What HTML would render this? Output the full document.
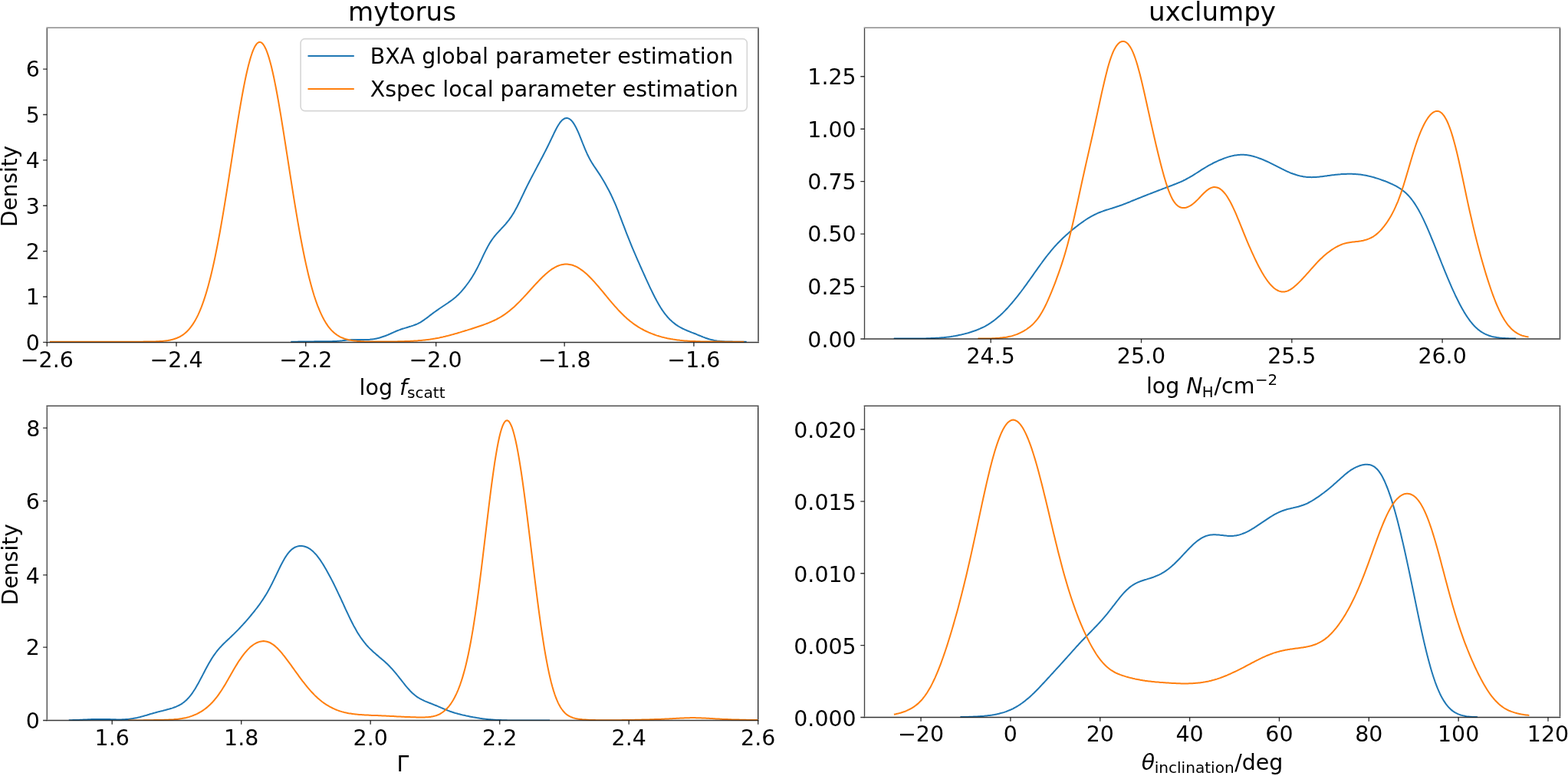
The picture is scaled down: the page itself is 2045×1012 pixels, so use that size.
<!DOCTYPE html>
<html lang="en"><head><meta charset="utf-8"><title>Posterior parameter distributions</title>
<style>
html,body{margin:0;padding:0;background:#fff;}
body{width:2045px;height:1012px;overflow:hidden;}
svg{display:block;filter:blur(0.45px);}
text{font-family:"DejaVu Sans","Liberation Sans",sans-serif;fill:#000;}
.t{font-size:28.45px;}
.ti{font-size:34.1px;}
.sp{fill:none;stroke:#000;stroke-width:1.35;stroke-linecap:butt;}
.tk{stroke:#000;stroke-opacity:0.8;stroke-width:1.35;fill:none;}
.c{fill:none;stroke-width:2;stroke-linejoin:round;stroke-linecap:square;}
.b{stroke:#1f77b4;}
.o{stroke:#ff7f0e;}
</style></head><body>
<svg width="2045" height="1012" viewBox="0 0 2045 1012" role="img" aria-label="Kernel density estimates of posterior parameters for the mytorus and uxclumpy models">
<rect x="0" y="0" width="2045" height="1012" fill="#fff"/>
<g id="panel-tl">
<clipPath id="clip-tl"><rect x="61.3" y="36.1" width="927.7" height="410.4"/></clipPath>
<g clip-path="url(#clip-tl)">
<path class="c b" d="M380.3 445.7L381.8 445.7L383.3 445.7L384.8 445.7L386.3 445.7L387.8 445.7L389.3 445.6L390.8 445.6L392.3 445.6L393.8 445.6L395.3 445.6L396.8 445.6L398.3 445.5L399.8 445.5L401.3 445.5L402.8 445.5L404.3 445.4L405.8 445.4L407.3 445.4L408.8 445.4L410.3 445.3L411.8 445.3L413.3 445.3L414.8 445.3L416.3 445.3L417.8 445.3L419.3 445.3L420.8 445.3L422.3 445.3L423.8 445.3L425.3 445.3L426.8 445.3L428.3 445.3L429.8 445.2L431.3 445.2L432.8 445.2L434.3 445.1L435.8 445.1L437.3 445.0L438.8 444.9L440.3 444.8L441.8 444.7L443.3 444.6L444.8 444.4L446.3 444.3L447.8 444.1L449.3 444.0L450.8 443.8L452.3 443.6L453.8 443.5L455.3 443.4L456.8 443.2L458.3 443.1L459.8 443.1L461.3 443.0L462.8 443.0L464.3 442.9L465.8 442.9L467.3 442.9L468.8 443.0L470.3 443.0L471.8 443.0L473.3 443.0L474.8 443.0L476.3 443.0L477.8 443.0L479.3 443.0L480.8 442.9L482.3 442.8L483.8 442.6L485.3 442.4L486.8 442.2L488.3 442.0L489.8 441.7L491.3 441.4L492.8 441.1L494.3 440.7L495.8 440.3L497.3 439.8L498.8 439.3L500.3 438.8L501.8 438.3L503.3 437.7L504.8 437.1L506.3 436.5L507.8 435.8L509.3 435.2L510.8 434.5L512.3 433.8L513.8 433.1L515.3 432.5L516.8 431.8L518.3 431.2L519.8 430.6L521.3 430.1L522.8 429.5L524.3 429.0L525.8 428.5L527.3 428.1L528.8 427.6L530.3 427.2L531.8 426.7L533.3 426.3L534.8 425.8L536.3 425.4L537.8 424.9L539.3 424.4L540.8 423.8L542.3 423.2L543.8 422.6L545.3 421.9L546.8 421.1L548.3 420.3L549.8 419.4L551.3 418.4L552.8 417.4L554.3 416.3L555.8 415.2L557.3 414.1L558.8 413.0L560.3 411.8L561.8 410.6L563.3 409.5L564.8 408.4L566.3 407.3L567.8 406.2L569.3 405.1L570.8 404.1L572.3 403.0L573.8 402.0L575.3 401.0L576.8 400.0L578.3 399.0L579.8 398.0L581.3 397.0L582.8 396.0L584.3 395.0L585.8 393.9L587.3 392.9L588.8 391.8L590.3 390.7L591.8 389.5L593.3 388.3L594.8 387.0L596.3 385.6L597.8 384.2L599.3 382.6L600.8 381.1L602.3 379.4L603.8 377.6L605.3 375.8L606.8 374.0L608.3 372.0L609.8 370.0L611.3 368.0L612.8 365.8L614.3 363.6L615.8 361.3L617.3 358.8L618.8 356.3L620.3 353.6L621.8 350.8L623.3 347.9L624.8 344.9L626.3 341.8L627.8 338.6L629.3 335.4L630.8 332.2L632.3 329.1L633.8 326.1L635.3 323.2L636.8 320.4L638.3 317.8L639.8 315.4L641.3 313.1L642.8 311.0L644.3 309.0L645.8 307.2L647.3 305.4L648.8 303.7L650.3 302.1L651.8 300.5L653.3 298.9L654.8 297.2L656.3 295.6L657.8 294.0L659.3 292.3L660.8 290.5L662.3 288.7L663.8 286.8L665.3 284.7L666.8 282.6L668.3 280.3L669.8 277.9L671.3 275.3L672.8 272.6L674.3 269.8L675.8 266.8L677.3 263.8L678.8 260.6L680.3 257.5L681.8 254.3L683.3 251.2L684.8 248.0L686.3 245.0L687.8 241.9L689.3 239.0L690.8 236.0L692.3 233.1L693.8 230.3L695.3 227.4L696.8 224.6L698.3 221.7L699.8 218.9L701.3 216.0L702.8 213.2L704.3 210.4L705.8 207.5L707.3 204.7L708.8 201.8L710.3 198.9L711.8 196.0L713.3 193.0L714.8 190.0L716.3 186.9L717.8 183.8L719.3 180.6L720.8 177.5L722.3 174.3L723.8 171.3L725.3 168.3L726.8 165.5L728.3 163.0L729.8 160.7L731.3 158.7L732.8 157.1L734.3 155.8L735.8 154.8L737.3 154.2L738.8 154.0L740.3 154.1L741.8 154.6L743.3 155.5L744.8 156.8L746.3 158.4L747.8 160.4L749.3 162.8L750.8 165.4L752.3 168.5L753.8 171.7L755.3 175.2L756.8 178.9L758.3 182.7L759.8 186.5L761.3 190.2L762.8 193.9L764.3 197.4L765.8 200.7L767.3 203.8L768.8 206.7L770.3 209.4L771.8 212.0L773.3 214.4L774.8 216.7L776.3 218.9L777.8 221.1L779.3 223.4L780.8 225.6L782.3 227.9L783.8 230.3L785.3 232.8L786.8 235.3L788.3 237.8L789.8 240.5L791.3 243.2L792.8 246.0L794.3 248.8L795.8 251.8L797.3 254.8L798.8 258.0L800.3 261.3L801.8 264.7L803.3 268.2L804.8 271.9L806.3 275.6L807.7 279.5L809.2 283.4L810.7 287.3L812.2 291.3L813.7 295.2L815.2 299.2L816.7 303.1L818.2 306.9L819.7 310.7L821.2 314.4L822.7 318.1L824.2 321.8L825.7 325.3L827.2 328.9L828.7 332.4L830.2 335.8L831.7 339.3L833.2 342.7L834.7 346.1L836.2 349.5L837.7 352.8L839.2 356.2L840.7 359.5L842.2 362.8L843.7 366.1L845.2 369.4L846.7 372.6L848.2 375.8L849.7 378.9L851.2 382.0L852.7 385.0L854.2 388.0L855.7 390.8L857.2 393.6L858.7 396.2L860.2 398.8L861.7 401.3L863.2 403.6L864.7 405.8L866.2 407.9L867.7 409.9L869.2 411.7L870.7 413.5L872.2 415.1L873.7 416.7L875.2 418.1L876.7 419.5L878.2 420.7L879.7 421.9L881.2 423.1L882.7 424.1L884.2 425.1L885.7 426.0L887.2 426.9L888.7 427.7L890.2 428.5L891.7 429.2L893.2 429.9L894.7 430.5L896.2 431.2L897.7 431.8L899.2 432.4L900.7 433.0L902.2 433.6L903.7 434.1L905.2 434.7L906.7 435.3L908.2 435.9L909.7 436.6L911.2 437.2L912.7 437.8L914.2 438.4L915.7 439.0L917.2 439.6L918.7 440.1L920.2 440.7L921.7 441.2L923.2 441.7L924.7 442.2L926.2 442.6L927.7 443.0L929.2 443.3L930.7 443.7L932.2 444.0L933.7 444.2L935.2 444.5L936.7 444.7L938.2 444.8L939.7 445.0L941.2 445.1L942.7 445.2L944.2 445.3L945.7 445.4L947.2 445.5L948.7 445.5L950.2 445.6L951.7 445.6L953.2 445.6L954.7 445.6L956.2 445.7L957.7 445.7L959.2 445.7L960.7 445.7L962.2 445.7L963.7 445.7L965.2 445.7L966.7 445.7L968.2 445.7L969.7 445.7L971.2 445.7L972.7 445.7"/>
<path class="c o" d="M66.0 445.7L67.5 445.7L69.0 445.7L70.5 445.7L72.0 445.7L73.5 445.7L75.0 445.7L76.5 445.7L78.0 445.7L79.5 445.7L81.0 445.7L82.5 445.7L84.0 445.7L85.5 445.7L87.0 445.7L88.5 445.7L90.0 445.7L91.5 445.7L93.0 445.7L94.5 445.7L96.0 445.7L97.5 445.7L99.0 445.7L100.5 445.7L102.0 445.7L103.5 445.7L105.0 445.7L106.5 445.7L108.0 445.7L109.5 445.7L111.0 445.7L112.5 445.7L114.0 445.7L115.5 445.7L117.0 445.7L118.5 445.7L120.0 445.7L121.5 445.7L123.0 445.7L124.5 445.7L126.0 445.7L127.5 445.7L129.0 445.7L130.5 445.7L132.0 445.7L133.5 445.7L135.0 445.7L136.5 445.7L138.0 445.7L139.5 445.7L141.0 445.7L142.5 445.7L144.0 445.7L145.5 445.7L147.0 445.7L148.5 445.7L150.0 445.7L151.5 445.7L153.0 445.7L154.5 445.7L156.0 445.7L157.5 445.7L159.0 445.7L160.5 445.7L162.0 445.7L163.5 445.7L165.0 445.7L166.5 445.7L168.0 445.7L169.5 445.7L171.0 445.7L172.5 445.7L174.0 445.7L175.5 445.7L177.0 445.7L178.5 445.7L180.0 445.7L181.5 445.7L183.1 445.7L184.6 445.7L186.1 445.7L187.6 445.6L189.1 445.6L190.6 445.6L192.1 445.6L193.6 445.6L195.1 445.6L196.6 445.5L198.1 445.5L199.6 445.5L201.1 445.4L202.6 445.4L204.1 445.3L205.6 445.2L207.1 445.2L208.6 445.1L210.1 445.0L211.6 444.9L213.1 444.7L214.6 444.6L216.1 444.4L217.6 444.2L219.1 444.0L220.6 443.7L222.1 443.4L223.6 443.1L225.1 442.7L226.6 442.3L228.1 441.8L229.6 441.3L231.1 440.7L232.6 440.0L234.1 439.3L235.6 438.5L237.1 437.6L238.6 436.6L240.1 435.5L241.6 434.3L243.1 432.9L244.6 431.5L246.1 429.9L247.6 428.1L249.1 426.2L250.6 424.2L252.1 421.9L253.6 419.5L255.1 416.9L256.6 414.1L258.1 411.1L259.6 407.8L261.1 404.3L262.6 400.6L264.1 396.6L265.6 392.4L267.1 387.9L268.6 383.1L270.1 378.0L271.6 372.7L273.1 367.1L274.6 361.2L276.1 355.0L277.6 348.5L279.1 341.7L280.6 334.7L282.1 327.3L283.6 319.7L285.1 311.8L286.6 303.7L288.1 295.3L289.6 286.7L291.1 277.9L292.6 268.9L294.1 259.7L295.6 250.4L297.1 240.9L298.6 231.4L300.1 221.7L301.6 212.1L303.1 202.4L304.6 192.7L306.1 183.1L307.6 173.6L309.1 164.2L310.6 154.9L312.1 145.9L313.6 137.1L315.1 128.5L316.6 120.3L318.1 112.4L319.6 104.9L321.1 97.8L322.6 91.2L324.1 85.0L325.6 79.4L327.1 74.3L328.6 69.7L330.1 65.7L331.6 62.3L333.1 59.6L334.6 57.4L336.1 55.9L337.6 55.1L339.1 54.9L340.6 55.4L342.1 56.5L343.6 58.3L345.1 60.7L346.6 63.7L348.1 67.3L349.6 71.6L351.1 76.4L352.6 81.7L354.1 87.6L355.6 94.0L357.1 100.8L358.6 108.1L360.1 115.7L361.6 123.8L363.1 132.1L364.6 140.8L366.1 149.7L367.6 158.8L369.1 168.1L370.6 177.6L372.1 187.1L373.6 196.8L375.1 206.4L376.6 216.1L378.1 225.8L379.6 235.4L381.1 244.9L382.6 254.3L384.1 263.6L385.6 272.7L387.1 281.6L388.6 290.4L390.1 298.9L391.6 307.2L393.1 315.2L394.6 323.0L396.1 330.5L397.6 337.7L399.1 344.6L400.6 351.3L402.1 357.7L403.6 363.7L405.1 369.5L406.6 375.0L408.1 380.2L409.6 385.2L411.1 389.8L412.6 394.2L414.1 398.3L415.7 402.2L417.2 405.8L418.7 409.2L420.2 412.4L421.7 415.3L423.2 418.1L424.7 420.6L426.2 422.9L427.7 425.1L429.2 427.1L430.7 428.9L432.2 430.6L433.7 432.1L435.2 433.5L436.7 434.8L438.2 435.9L439.7 437.0L441.2 437.9L442.7 438.8L444.2 439.6L445.7 440.3L447.2 440.9L448.7 441.5L450.2 442.0L451.7 442.4L453.2 442.8L454.7 443.2L456.2 443.5L457.7 443.8L459.2 444.0L460.7 444.3L462.2 444.4L463.7 444.6L465.2 444.8L466.7 444.9L468.2 445.0L469.7 445.1L471.2 445.2L472.7 445.2L474.2 445.3L475.7 445.4L477.2 445.4L478.7 445.4L480.2 445.5L481.7 445.5L483.2 445.5L484.7 445.5L486.2 445.6L487.7 445.6L489.2 445.6L490.7 445.6L492.2 445.6L493.7 445.6L495.2 445.6L496.7 445.6L498.2 445.6L499.7 445.6L501.2 445.6L502.7 445.5L504.2 445.5L505.7 445.5L507.2 445.5L508.7 445.5L510.2 445.5L511.7 445.5L513.2 445.4L514.7 445.4L516.2 445.4L517.7 445.4L519.2 445.3L520.7 445.3L522.2 445.3L523.7 445.2L525.2 445.2L526.7 445.2L528.2 445.1L529.7 445.1L531.2 445.0L532.7 445.0L534.2 444.9L535.7 444.8L537.2 444.7L538.7 444.7L540.2 444.6L541.7 444.5L543.2 444.4L544.7 444.3L546.2 444.1L547.7 444.0L549.2 443.9L550.7 443.7L552.2 443.6L553.7 443.4L555.2 443.2L556.7 443.1L558.2 442.9L559.7 442.7L561.2 442.5L562.7 442.2L564.2 442.0L565.7 441.7L567.2 441.5L568.7 441.2L570.2 440.9L571.7 440.7L573.2 440.4L574.7 440.0L576.2 439.7L577.7 439.4L579.2 439.0L580.7 438.7L582.2 438.3L583.7 438.0L585.2 437.6L586.7 437.2L588.2 436.8L589.7 436.4L591.2 436.0L592.7 435.5L594.2 435.1L595.7 434.7L597.2 434.2L598.7 433.8L600.2 433.4L601.7 432.9L603.2 432.4L604.7 432.0L606.2 431.5L607.7 431.0L609.2 430.6L610.7 430.1L612.2 429.6L613.7 429.2L615.2 428.7L616.7 428.2L618.2 427.7L619.7 427.2L621.2 426.7L622.7 426.2L624.2 425.7L625.7 425.2L627.2 424.7L628.7 424.2L630.2 423.7L631.7 423.1L633.2 422.6L634.7 422.0L636.2 421.5L637.7 420.9L639.2 420.2L640.7 419.6L642.2 418.9L643.7 418.3L645.2 417.5L646.7 416.8L648.3 416.0L649.8 415.2L651.3 414.4L652.8 413.5L654.3 412.6L655.8 411.6L657.3 410.6L658.8 409.6L660.3 408.5L661.8 407.4L663.3 406.3L664.8 405.1L666.3 403.8L667.8 402.5L669.3 401.2L670.8 399.9L672.3 398.5L673.8 397.0L675.3 395.6L676.8 394.1L678.3 392.6L679.8 391.0L681.3 389.4L682.8 387.9L684.3 386.2L685.8 384.6L687.3 383.0L688.8 381.3L690.3 379.7L691.8 378.0L693.3 376.3L694.8 374.7L696.3 373.0L697.8 371.4L699.3 369.8L700.8 368.2L702.3 366.6L703.8 365.0L705.3 363.5L706.8 362.0L708.3 360.6L709.8 359.2L711.3 357.8L712.8 356.5L714.3 355.2L715.8 354.0L717.3 352.8L718.8 351.7L720.3 350.7L721.8 349.8L723.3 348.9L724.8 348.1L726.3 347.3L727.8 346.7L729.3 346.1L730.8 345.6L732.3 345.2L733.8 344.9L735.3 344.7L736.8 344.5L738.3 344.5L739.8 344.5L741.3 344.7L742.8 344.9L744.3 345.2L745.8 345.5L747.3 346.0L748.8 346.6L750.3 347.2L751.8 347.9L753.3 348.7L754.8 349.6L756.3 350.5L757.8 351.6L759.3 352.6L760.8 353.8L762.3 355.0L763.8 356.3L765.3 357.6L766.8 359.0L768.3 360.5L769.8 362.0L771.3 363.5L772.8 365.1L774.3 366.7L775.8 368.4L777.3 370.1L778.8 371.8L780.3 373.5L781.8 375.3L783.3 377.1L784.8 378.9L786.3 380.7L787.8 382.5L789.3 384.3L790.8 386.1L792.3 388.0L793.8 389.8L795.3 391.6L796.8 393.3L798.3 395.1L799.8 396.8L801.3 398.6L802.8 400.3L804.3 401.9L805.8 403.6L807.3 405.2L808.8 406.7L810.3 408.3L811.8 409.8L813.3 411.2L814.8 412.7L816.3 414.0L817.8 415.4L819.3 416.7L820.8 417.9L822.3 419.2L823.8 420.3L825.3 421.5L826.8 422.6L828.3 423.6L829.8 424.6L831.3 425.6L832.8 426.6L834.3 427.5L835.8 428.4L837.3 429.2L838.8 430.0L840.3 430.8L841.8 431.5L843.3 432.3L844.8 432.9L846.3 433.6L847.8 434.2L849.3 434.9L850.8 435.4L852.3 436.0L853.8 436.5L855.3 437.1L856.8 437.6L858.3 438.0L859.8 438.5L861.3 438.9L862.8 439.4L864.3 439.7L865.8 440.1L867.3 440.5L868.8 440.8L870.3 441.2L871.8 441.5L873.3 441.8L874.8 442.1L876.3 442.3L877.8 442.6L879.4 442.8L880.9 443.0L882.4 443.2L883.9 443.4L885.4 443.6L886.9 443.8L888.4 443.9L889.9 444.1L891.4 444.2L892.9 444.4L894.4 444.5L895.9 444.6L897.4 444.7L898.9 444.8L900.4 444.9L901.9 444.9L903.4 445.0L904.9 445.1L906.4 445.1L907.9 445.2L909.4 445.2L910.9 445.3L912.4 445.3L913.9 445.4L915.4 445.4L916.9 445.4L918.4 445.5L919.9 445.5L921.4 445.5L922.9 445.5L924.4 445.5L925.9 445.6L927.4 445.6L928.9 445.6L930.4 445.6L931.9 445.6L933.4 445.6L934.9 445.6L936.4 445.6L937.9 445.6L939.4 445.6L940.9 445.6L942.4 445.7L943.9 445.7L945.4 445.7L946.9 445.7L948.4 445.7L949.9 445.7L951.4 445.7L952.9 445.7L954.4 445.7L955.9 445.7L957.4 445.7L958.9 445.7L960.4 445.7L961.9 445.7L963.4 445.7L964.9 445.7L966.4 445.7L967.9 445.7L969.4 445.7"/>
</g>
<path class="tk" d="M61.3 446.5v5.2M230.02 446.5v5.2M398.74 446.5v5.2M568.66 446.5v5.2M736.18 446.5v5.2M904.9 446.5v5.2M61.3 446.4h-5.2M61.3 387.02h-5.2M61.3 327.64h-5.2M61.3 268.26h-5.2M61.3 208.88h-5.2M61.3 149.5h-5.2M61.3 90.12h-5.2"/>
<path class="sp" stroke-opacity="0.55" stroke-width="1.5" d="M60.4 36.1H989.9"/>
<path class="sp" stroke-opacity="0.85" stroke-width="1.3" d="M989 37V445.6"/>
<path class="sp" stroke-opacity="0.8" stroke-width="1.35" d="M60.4 446.5H989.9"/>
<path class="sp" stroke-opacity="0.72" stroke-width="1.5" d="M61.3 37V445.6"/>
<text class="t" x="61.3" y="478.6" text-anchor="middle">−2.6</text>
<text class="t" x="230.02" y="478.6" text-anchor="middle">−2.4</text>
<text class="t" x="398.74" y="478.6" text-anchor="middle">−2.2</text>
<text class="t" x="568.06" y="478.6" text-anchor="middle">−2.0</text>
<text class="t" x="736.18" y="478.6" text-anchor="middle">−1.8</text>
<text class="t" x="904.9" y="478.6" text-anchor="middle">−1.6</text>
<text class="t" x="51.9" y="456.7" text-anchor="end">0</text>
<text class="t" x="51.9" y="397.32" text-anchor="end">1</text>
<text class="t" x="51.9" y="337.94" text-anchor="end">2</text>
<text class="t" x="51.9" y="278.56" text-anchor="end">3</text>
<text class="t" x="51.9" y="219.18" text-anchor="end">4</text>
<text class="t" x="51.9" y="159.8" text-anchor="end">5</text>
<text class="t" x="51.9" y="100.42" text-anchor="end">6</text>
</g>
<g id="panel-tr">
<clipPath id="clip-tr"><rect x="1127.5" y="36.1" width="907" height="405.9"/></clipPath>
<g clip-path="url(#clip-tr)">
<path class="c b" d="M1166.7 441.6L1168.1 441.6L1169.6 441.6L1171.1 441.6L1172.6 441.6L1174.1 441.6L1175.6 441.6L1177.1 441.6L1178.6 441.6L1180.1 441.6L1181.6 441.6L1183.1 441.6L1184.6 441.6L1186.1 441.6L1187.6 441.6L1189.1 441.6L1190.6 441.6L1192.1 441.6L1193.6 441.6L1195.1 441.6L1196.6 441.6L1198.1 441.5L1199.6 441.5L1201.1 441.5L1202.6 441.5L1204.1 441.4L1205.6 441.4L1207.1 441.4L1208.6 441.3L1210.1 441.3L1211.6 441.2L1213.1 441.2L1214.6 441.1L1216.1 441.1L1217.6 441.0L1219.1 440.9L1220.6 440.8L1222.1 440.8L1223.6 440.7L1225.1 440.6L1226.6 440.4L1228.1 440.3L1229.6 440.2L1231.1 440.1L1232.6 439.9L1234.1 439.7L1235.6 439.6L1237.1 439.4L1238.6 439.2L1240.1 439.0L1241.6 438.7L1243.1 438.5L1244.6 438.2L1246.1 438.0L1247.6 437.7L1249.1 437.4L1250.6 437.1L1252.1 436.8L1253.6 436.5L1255.1 436.1L1256.6 435.8L1258.1 435.4L1259.6 435.0L1261.1 434.6L1262.6 434.2L1264.1 433.7L1265.6 433.3L1267.1 432.8L1268.6 432.3L1270.1 431.8L1271.6 431.3L1273.1 430.7L1274.6 430.1L1276.1 429.5L1277.6 428.9L1279.1 428.2L1280.6 427.5L1282.1 426.8L1283.6 426.1L1285.1 425.3L1286.6 424.4L1288.1 423.6L1289.6 422.7L1291.1 421.7L1292.5 420.7L1294.0 419.7L1295.5 418.6L1297.0 417.5L1298.5 416.3L1300.0 415.1L1301.5 413.8L1303.0 412.5L1304.5 411.2L1306.0 409.8L1307.5 408.4L1309.0 406.9L1310.5 405.4L1312.0 403.8L1313.5 402.2L1315.0 400.6L1316.5 398.9L1318.0 397.2L1319.5 395.5L1321.0 393.7L1322.5 391.9L1324.0 390.0L1325.5 388.2L1327.0 386.3L1328.5 384.4L1330.0 382.4L1331.5 380.5L1333.0 378.5L1334.5 376.5L1336.0 374.4L1337.5 372.4L1339.0 370.3L1340.5 368.2L1342.0 366.1L1343.5 364.0L1345.0 361.9L1346.5 359.8L1348.0 357.7L1349.5 355.5L1351.0 353.4L1352.5 351.3L1354.0 349.2L1355.5 347.1L1357.0 345.0L1358.5 343.0L1360.0 340.9L1361.5 338.9L1363.0 336.9L1364.5 334.9L1366.0 333.0L1367.5 331.1L1369.0 329.3L1370.5 327.4L1372.0 325.6L1373.5 323.9L1375.0 322.2L1376.5 320.5L1378.0 318.9L1379.5 317.3L1381.0 315.7L1382.5 314.2L1384.0 312.7L1385.5 311.2L1387.0 309.8L1388.5 308.4L1390.0 307.0L1391.5 305.7L1393.0 304.4L1394.5 303.1L1396.0 301.8L1397.5 300.6L1399.0 299.3L1400.5 298.1L1402.0 296.9L1403.5 295.7L1405.0 294.6L1406.5 293.4L1408.0 292.3L1409.5 291.2L1411.0 290.1L1412.5 289.1L1414.0 288.0L1415.5 287.0L1416.9 286.0L1418.4 285.1L1419.9 284.2L1421.4 283.3L1422.9 282.4L1424.4 281.6L1425.9 280.8L1427.4 280.0L1428.9 279.3L1430.4 278.6L1431.9 277.9L1433.4 277.3L1434.9 276.7L1436.4 276.1L1437.9 275.6L1439.4 275.0L1440.9 274.5L1442.4 274.0L1443.9 273.5L1445.4 273.1L1446.9 272.6L1448.4 272.1L1449.9 271.7L1451.4 271.2L1452.9 270.7L1454.4 270.3L1455.9 269.8L1457.4 269.3L1458.9 268.8L1460.4 268.2L1461.9 267.7L1463.4 267.2L1464.9 266.6L1466.4 266.0L1467.9 265.5L1469.4 264.9L1470.9 264.3L1472.4 263.7L1473.9 263.1L1475.4 262.4L1476.9 261.8L1478.4 261.2L1479.9 260.6L1481.4 260.0L1482.9 259.4L1484.4 258.8L1485.9 258.2L1487.4 257.6L1488.9 257.0L1490.4 256.4L1491.9 255.8L1493.4 255.2L1494.9 254.6L1496.4 254.0L1497.9 253.4L1499.4 252.9L1500.9 252.3L1502.4 251.7L1503.9 251.1L1505.4 250.5L1506.9 250.0L1508.4 249.4L1509.9 248.8L1511.4 248.2L1512.9 247.6L1514.4 247.1L1515.9 246.5L1517.4 245.9L1518.9 245.4L1520.4 244.8L1521.9 244.2L1523.4 243.7L1524.9 243.1L1526.4 242.5L1527.9 242.0L1529.4 241.4L1530.9 240.8L1532.4 240.2L1533.9 239.6L1535.4 239.0L1536.9 238.4L1538.4 237.8L1539.9 237.1L1541.4 236.5L1542.8 235.8L1544.3 235.0L1545.8 234.3L1547.3 233.5L1548.8 232.7L1550.3 231.9L1551.8 231.0L1553.3 230.2L1554.8 229.3L1556.3 228.4L1557.8 227.4L1559.3 226.5L1560.8 225.5L1562.3 224.6L1563.8 223.6L1565.3 222.7L1566.8 221.7L1568.3 220.7L1569.8 219.8L1571.3 218.9L1572.8 218.0L1574.3 217.1L1575.8 216.2L1577.3 215.4L1578.8 214.6L1580.3 213.8L1581.8 213.0L1583.3 212.2L1584.8 211.5L1586.3 210.8L1587.8 210.1L1589.3 209.4L1590.8 208.8L1592.3 208.2L1593.8 207.6L1595.3 207.0L1596.8 206.4L1598.3 205.9L1599.8 205.4L1601.3 204.9L1602.8 204.4L1604.3 204.0L1605.8 203.6L1607.3 203.3L1608.8 202.9L1610.3 202.6L1611.8 202.4L1613.3 202.2L1614.8 202.0L1616.3 201.9L1617.8 201.8L1619.3 201.8L1620.8 201.8L1622.3 201.8L1623.8 201.9L1625.3 202.1L1626.8 202.3L1628.3 202.5L1629.8 202.8L1631.3 203.1L1632.8 203.4L1634.3 203.8L1635.8 204.2L1637.3 204.6L1638.8 205.1L1640.3 205.6L1641.8 206.2L1643.3 206.7L1644.8 207.3L1646.3 207.9L1647.8 208.5L1649.3 209.2L1650.8 209.8L1652.3 210.5L1653.8 211.2L1655.3 211.9L1656.8 212.6L1658.3 213.4L1659.8 214.1L1661.3 214.9L1662.8 215.6L1664.3 216.4L1665.8 217.2L1667.2 217.9L1668.7 218.7L1670.2 219.4L1671.7 220.2L1673.2 220.9L1674.7 221.7L1676.2 222.4L1677.7 223.1L1679.2 223.8L1680.7 224.4L1682.2 225.1L1683.7 225.7L1685.2 226.2L1686.7 226.8L1688.2 227.3L1689.7 227.8L1691.2 228.3L1692.7 228.7L1694.2 229.1L1695.7 229.5L1697.2 229.8L1698.7 230.1L1700.2 230.4L1701.7 230.6L1703.2 230.8L1704.7 230.9L1706.2 231.0L1707.7 231.1L1709.2 231.1L1710.7 231.2L1712.2 231.1L1713.7 231.1L1715.2 231.0L1716.7 230.9L1718.2 230.8L1719.7 230.7L1721.2 230.5L1722.7 230.3L1724.2 230.2L1725.7 230.0L1727.2 229.8L1728.7 229.6L1730.2 229.4L1731.7 229.1L1733.2 228.9L1734.7 228.7L1736.2 228.5L1737.7 228.3L1739.2 228.2L1740.7 228.0L1742.2 227.8L1743.7 227.7L1745.2 227.5L1746.7 227.4L1748.2 227.3L1749.7 227.1L1751.2 227.1L1752.7 227.0L1754.2 226.9L1755.7 226.9L1757.2 226.8L1758.7 226.8L1760.2 226.8L1761.7 226.8L1763.2 226.8L1764.7 226.9L1766.2 227.0L1767.7 227.1L1769.2 227.2L1770.7 227.3L1772.2 227.5L1773.7 227.6L1775.2 227.8L1776.7 228.0L1778.2 228.3L1779.7 228.5L1781.2 228.8L1782.7 229.1L1784.2 229.4L1785.7 229.8L1787.2 230.1L1788.7 230.5L1790.2 230.9L1791.7 231.3L1793.1 231.7L1794.6 232.2L1796.1 232.6L1797.6 233.1L1799.1 233.6L1800.6 234.1L1802.1 234.7L1803.6 235.2L1805.1 235.8L1806.6 236.3L1808.1 236.9L1809.6 237.5L1811.1 238.2L1812.6 238.8L1814.1 239.5L1815.6 240.1L1817.1 240.9L1818.6 241.6L1820.1 242.4L1821.6 243.2L1823.1 244.1L1824.6 245.0L1826.1 245.9L1827.6 247.0L1829.1 248.1L1830.6 249.2L1832.1 250.5L1833.6 251.8L1835.1 253.2L1836.6 254.8L1838.1 256.4L1839.6 258.2L1841.1 260.0L1842.6 262.0L1844.1 264.1L1845.6 266.4L1847.1 268.7L1848.6 271.2L1850.1 273.8L1851.6 276.6L1853.1 279.4L1854.6 282.4L1856.1 285.4L1857.6 288.6L1859.1 291.9L1860.6 295.2L1862.1 298.6L1863.6 302.1L1865.1 305.7L1866.6 309.3L1868.1 313.0L1869.6 316.7L1871.1 320.4L1872.6 324.1L1874.1 327.9L1875.6 331.7L1877.1 335.4L1878.6 339.2L1880.1 343.0L1881.6 346.7L1883.1 350.4L1884.6 354.1L1886.1 357.7L1887.6 361.3L1889.1 364.9L1890.6 368.4L1892.1 371.9L1893.6 375.3L1895.1 378.7L1896.6 381.9L1898.1 385.2L1899.6 388.3L1901.1 391.3L1902.6 394.3L1904.1 397.2L1905.6 400.0L1907.1 402.7L1908.6 405.3L1910.1 407.9L1911.6 410.3L1913.1 412.6L1914.6 414.8L1916.1 416.9L1917.5 418.9L1919.0 420.7L1920.5 422.5L1922.0 424.2L1923.5 425.8L1925.0 427.2L1926.5 428.6L1928.0 429.9L1929.5 431.0L1931.0 432.1L1932.5 433.1L1934.0 434.0L1935.5 434.9L1937.0 435.6L1938.5 436.3L1940.0 436.9L1941.5 437.5L1943.0 438.0L1944.5 438.5L1946.0 438.9L1947.5 439.2L1949.0 439.6L1950.5 439.8L1952.0 440.1L1953.5 440.3L1955.0 440.5L1956.5 440.7L1958.0 440.8L1959.5 440.9L1961.0 441.0L1962.5 441.1L1964.0 441.2L1965.5 441.3L1967.0 441.3L1968.5 441.4L1970.0 441.4L1971.5 441.4L1973.0 441.4L1974.5 441.5L1976.0 441.5"/>
<path class="c o" d="M1276.4 441.6L1277.9 441.6L1279.4 441.6L1280.9 441.6L1282.4 441.6L1283.9 441.6L1285.4 441.6L1286.9 441.5L1288.4 441.5L1289.9 441.5L1291.4 441.4L1292.9 441.4L1294.4 441.3L1295.9 441.2L1297.4 441.2L1298.9 441.1L1300.4 441.0L1301.9 440.9L1303.4 440.8L1304.9 440.6L1306.4 440.5L1307.9 440.3L1309.4 440.1L1310.9 439.9L1312.4 439.7L1313.9 439.4L1315.4 439.1L1316.9 438.8L1318.4 438.5L1319.9 438.1L1321.4 437.6L1322.9 437.1L1324.4 436.6L1325.9 436.1L1327.4 435.5L1328.9 434.8L1330.4 434.1L1331.9 433.4L1333.4 432.6L1334.9 431.8L1336.4 430.9L1337.9 430.0L1339.4 429.0L1340.9 427.9L1342.5 426.8L1344.0 425.6L1345.5 424.3L1347.0 422.9L1348.5 421.4L1350.0 419.7L1351.5 418.0L1353.0 416.1L1354.5 414.1L1356.0 411.9L1357.5 409.5L1359.0 407.0L1360.5 404.3L1362.0 401.5L1363.5 398.5L1365.0 395.4L1366.5 392.1L1368.0 388.7L1369.5 385.2L1371.0 381.6L1372.5 377.9L1374.0 374.1L1375.5 370.3L1377.0 366.3L1378.5 362.2L1380.0 358.1L1381.5 353.9L1383.0 349.5L1384.5 345.1L1386.0 340.4L1387.5 335.7L1389.0 330.7L1390.5 325.5L1392.0 320.2L1393.5 314.6L1395.0 308.8L1396.5 302.8L1398.0 296.5L1399.5 290.1L1401.0 283.5L1402.5 276.8L1404.0 270.0L1405.5 263.2L1407.0 256.2L1408.5 249.3L1410.0 242.4L1411.5 235.5L1413.0 228.7L1414.5 222.0L1416.0 215.3L1417.5 208.6L1419.0 202.1L1420.5 195.5L1422.0 188.9L1423.5 182.3L1425.0 175.7L1426.5 168.9L1428.0 162.2L1429.5 155.3L1431.0 148.4L1432.5 141.4L1434.0 134.5L1435.5 127.5L1437.0 120.6L1438.6 113.8L1440.1 107.3L1441.6 100.9L1443.1 94.9L1444.6 89.1L1446.1 83.8L1447.6 78.9L1449.1 74.5L1450.6 70.5L1452.1 66.9L1453.6 63.9L1455.1 61.3L1456.6 59.1L1458.1 57.3L1459.6 55.9L1461.1 54.9L1462.6 54.3L1464.1 54.0L1465.6 54.0L1467.1 54.4L1468.6 55.2L1470.1 56.3L1471.6 57.8L1473.1 59.8L1474.6 62.1L1476.1 64.9L1477.6 68.1L1479.1 71.8L1480.6 76.0L1482.1 80.5L1483.6 85.5L1485.1 90.9L1486.6 96.6L1488.1 102.6L1489.6 108.8L1491.1 115.3L1492.6 121.8L1494.1 128.5L1495.6 135.3L1497.1 142.1L1498.6 148.8L1500.1 155.6L1501.6 162.3L1503.1 168.9L1504.6 175.5L1506.1 182.0L1507.6 188.4L1509.1 194.7L1510.6 200.9L1512.1 207.0L1513.6 213.0L1515.1 218.7L1516.6 224.3L1518.1 229.7L1519.6 234.8L1521.1 239.6L1522.6 244.1L1524.1 248.3L1525.6 252.1L1527.1 255.6L1528.6 258.7L1530.1 261.4L1531.6 263.7L1533.1 265.6L1534.7 267.3L1536.2 268.6L1537.7 269.5L1539.2 270.3L1540.7 270.8L1542.2 271.0L1543.7 271.1L1545.2 271.0L1546.7 270.7L1548.2 270.2L1549.7 269.6L1551.2 268.9L1552.7 268.1L1554.2 267.1L1555.7 266.0L1557.2 264.8L1558.7 263.5L1560.2 262.1L1561.7 260.6L1563.2 259.1L1564.7 257.5L1566.2 255.9L1567.7 254.3L1569.2 252.8L1570.7 251.3L1572.2 249.9L1573.7 248.6L1575.2 247.5L1576.7 246.4L1578.2 245.6L1579.7 244.9L1581.2 244.4L1582.7 244.1L1584.2 244.0L1585.7 244.2L1587.2 244.5L1588.7 245.0L1590.2 245.7L1591.7 246.7L1593.2 247.8L1594.7 249.2L1596.2 250.8L1597.7 252.5L1599.2 254.5L1600.7 256.7L1602.2 259.2L1603.7 261.8L1605.2 264.5L1606.7 267.5L1608.2 270.6L1609.7 273.9L1611.2 277.2L1612.7 280.7L1614.2 284.3L1615.7 287.9L1617.2 291.6L1618.7 295.3L1620.2 299.0L1621.7 302.8L1623.2 306.5L1624.7 310.1L1626.2 313.8L1627.7 317.4L1629.2 320.9L1630.8 324.4L1632.3 327.8L1633.8 331.1L1635.3 334.4L1636.8 337.6L1638.3 340.7L1639.8 343.8L1641.3 346.7L1642.8 349.6L1644.3 352.3L1645.8 355.0L1647.3 357.5L1648.8 360.0L1650.3 362.3L1651.8 364.5L1653.3 366.6L1654.8 368.5L1656.3 370.3L1657.8 372.0L1659.3 373.5L1660.8 374.9L1662.3 376.2L1663.8 377.3L1665.3 378.2L1666.8 379.0L1668.3 379.6L1669.8 380.1L1671.3 380.4L1672.8 380.5L1674.3 380.5L1675.8 380.4L1677.3 380.0L1678.8 379.6L1680.3 379.0L1681.8 378.2L1683.3 377.3L1684.8 376.4L1686.3 375.3L1687.8 374.1L1689.3 372.8L1690.8 371.5L1692.3 370.1L1693.8 368.6L1695.3 367.1L1696.8 365.6L1698.3 364.0L1699.8 362.4L1701.3 360.8L1702.8 359.1L1704.3 357.4L1705.8 355.8L1707.3 354.1L1708.8 352.4L1710.3 350.7L1711.8 349.0L1713.3 347.3L1714.8 345.7L1716.3 344.0L1717.8 342.4L1719.3 340.8L1720.8 339.3L1722.3 337.8L1723.8 336.4L1725.3 335.0L1726.9 333.6L1728.4 332.3L1729.9 331.0L1731.4 329.8L1732.9 328.7L1734.4 327.6L1735.9 326.5L1737.4 325.4L1738.9 324.5L1740.4 323.5L1741.9 322.6L1743.4 321.8L1744.9 321.0L1746.4 320.3L1747.9 319.6L1749.4 319.0L1750.9 318.4L1752.4 317.9L1753.9 317.5L1755.4 317.1L1756.9 316.8L1758.4 316.5L1759.9 316.2L1761.4 316.0L1762.9 315.8L1764.4 315.6L1765.9 315.5L1767.4 315.3L1768.9 315.1L1770.4 315.0L1771.9 314.7L1773.4 314.5L1774.9 314.3L1776.4 314.0L1777.9 313.7L1779.4 313.3L1780.9 312.9L1782.4 312.5L1783.9 311.9L1785.4 311.4L1786.9 310.7L1788.4 310.0L1789.9 309.2L1791.4 308.3L1792.9 307.2L1794.4 306.1L1795.9 304.9L1797.4 303.6L1798.9 302.1L1800.4 300.6L1801.9 299.0L1803.4 297.2L1804.9 295.4L1806.4 293.4L1807.9 291.4L1809.4 289.2L1810.9 286.9L1812.4 284.5L1813.9 282.0L1815.4 279.3L1816.9 276.4L1818.4 273.4L1819.9 270.2L1821.4 266.7L1823.0 263.1L1824.5 259.2L1826.0 255.1L1827.5 250.8L1829.0 246.3L1830.5 241.7L1832.0 236.8L1833.5 231.9L1835.0 226.8L1836.5 221.7L1838.0 216.6L1839.5 211.5L1841.0 206.5L1842.5 201.5L1844.0 196.7L1845.5 192.0L1847.0 187.5L1848.5 183.1L1850.0 179.0L1851.5 175.1L1853.0 171.4L1854.5 168.0L1856.0 164.8L1857.5 161.8L1859.0 159.0L1860.5 156.5L1862.0 154.2L1863.5 152.1L1865.0 150.3L1866.5 148.7L1868.0 147.4L1869.5 146.4L1871.0 145.6L1872.5 145.1L1874.0 144.9L1875.5 145.0L1877.0 145.4L1878.5 146.2L1880.0 147.3L1881.5 148.8L1883.0 150.6L1884.5 152.9L1886.0 155.5L1887.5 158.5L1889.0 162.0L1890.5 165.8L1892.0 170.0L1893.5 174.6L1895.0 179.6L1896.5 184.9L1898.0 190.6L1899.5 196.6L1901.0 202.8L1902.5 209.3L1904.0 216.0L1905.5 222.8L1907.0 229.8L1908.5 236.8L1910.0 243.9L1911.5 251.0L1913.0 258.1L1914.5 265.1L1916.0 272.0L1917.6 278.9L1919.1 285.5L1920.6 292.1L1922.1 298.5L1923.6 304.7L1925.1 310.8L1926.6 316.7L1928.1 322.5L1929.6 328.1L1931.1 333.7L1932.6 339.0L1934.1 344.3L1935.6 349.4L1937.1 354.5L1938.6 359.4L1940.1 364.1L1941.6 368.8L1943.1 373.3L1944.6 377.7L1946.1 382.0L1947.6 386.1L1949.1 390.0L1950.6 393.8L1952.1 397.5L1953.6 400.9L1955.1 404.2L1956.6 407.3L1958.1 410.2L1959.6 413.0L1961.1 415.6L1962.6 418.0L1964.1 420.2L1965.6 422.3L1967.1 424.3L1968.6 426.0L1970.1 427.7L1971.6 429.2L1973.1 430.6L1974.6 431.8L1976.1 432.9L1977.6 433.9L1979.1 434.9L1980.6 435.7L1982.1 436.4L1983.6 437.0L1985.1 437.6L1986.6 438.0L1988.1 438.4L1989.6 438.8L1991.1 439.1L1992.6 439.3"/>
</g>
<path class="tk" d="M1292.2 442v5.2M1488.5 442v5.2M1684.8 442v5.2M1881.1 442v5.2M1127.5 442h-5.2M1127.5 373.55h-5.2M1127.5 305.1h-5.2M1127.5 236.65h-5.2M1127.5 168.2h-5.2M1127.5 99.75h-5.2"/>
<path class="sp" stroke-opacity="0.55" stroke-width="1.5" d="M1126.6 36.1H2035.4"/>
<path class="sp" stroke-opacity="0.78" stroke-width="1.4" d="M2034.5 37V441.1"/>
<path class="sp" stroke-opacity="0.78" stroke-width="1.4" d="M1126.6 442H2035.4"/>
<path class="sp" stroke-opacity="0.74" stroke-width="1.45" d="M1127.5 37V441.1"/>
<text class="t" x="1292.2" y="474" text-anchor="middle">24.5</text>
<text class="t" x="1488.5" y="474" text-anchor="middle">25.0</text>
<text class="t" x="1684.8" y="474" text-anchor="middle">25.5</text>
<text class="t" x="1881.1" y="474" text-anchor="middle">26.0</text>
<text class="t" x="1116.7" y="453.3" text-anchor="end">0.00</text>
<text class="t" x="1116.7" y="383.85" text-anchor="end">0.25</text>
<text class="t" x="1116.7" y="315.4" text-anchor="end">0.50</text>
<text class="t" x="1116.7" y="246.95" text-anchor="end">0.75</text>
<text class="t" x="1116.7" y="178.5" text-anchor="end">1.00</text>
<text class="t" x="1116.7" y="110.05" text-anchor="end">1.25</text>
</g>
<g id="panel-bl">
<clipPath id="clip-bl"><rect x="61.3" y="529.4" width="927.4" height="410.1"/></clipPath>
<g clip-path="url(#clip-bl)">
<path class="c b" d="M90.8 939.3L92.3 939.2L93.8 939.2L95.3 939.1L96.8 939.1L98.3 939.0L99.8 939.0L101.3 938.9L102.8 938.9L104.3 938.8L105.8 938.7L107.3 938.7L108.8 938.6L110.3 938.5L111.8 938.4L113.3 938.4L114.8 938.3L116.3 938.2L117.8 938.2L119.3 938.1L120.8 938.1L122.3 938.0L123.8 938.0L125.2 937.9L126.7 937.9L128.2 937.9L129.7 937.9L131.2 937.9L132.7 937.9L134.2 937.9L135.7 937.9L137.2 938.0L138.7 938.0L140.2 938.0L141.7 938.1L143.2 938.1L144.7 938.2L146.2 938.2L147.7 938.3L149.2 938.3L150.7 938.3L152.2 938.4L153.7 938.4L155.2 938.4L156.7 938.4L158.2 938.4L159.7 938.3L161.2 938.3L162.7 938.2L164.2 938.1L165.7 938.0L167.2 937.9L168.7 937.7L170.2 937.5L171.7 937.3L173.2 937.1L174.7 936.8L176.2 936.5L177.7 936.2L179.2 935.9L180.7 935.5L182.2 935.2L183.7 934.8L185.2 934.4L186.7 934.0L188.2 933.5L189.7 933.1L191.2 932.7L192.7 932.2L194.2 931.8L195.7 931.3L197.2 930.9L198.7 930.5L200.2 930.0L201.7 929.6L203.2 929.2L204.7 928.8L206.2 928.4L207.7 928.0L209.2 927.6L210.7 927.2L212.2 926.9L213.7 926.5L215.2 926.1L216.7 925.7L218.2 925.3L219.7 924.9L221.2 924.5L222.7 924.0L224.2 923.6L225.7 923.1L227.2 922.5L228.7 922.0L230.2 921.4L231.7 920.7L233.2 920.0L234.7 919.2L236.2 918.3L237.7 917.3L239.2 916.2L240.7 915.1L242.2 913.8L243.7 912.4L245.2 910.8L246.7 909.1L248.2 907.3L249.7 905.4L251.2 903.3L252.7 901.0L254.2 898.7L255.7 896.2L257.2 893.6L258.7 890.9L260.2 888.1L261.7 885.3L263.2 882.5L264.7 879.6L266.2 876.7L267.7 873.8L269.2 871.0L270.7 868.2L272.2 865.6L273.7 863.0L275.2 860.4L276.7 858.0L278.2 855.7L279.7 853.6L281.2 851.5L282.7 849.5L284.2 847.7L285.7 845.9L287.2 844.2L288.7 842.6L290.2 841.0L291.7 839.5L293.2 838.1L294.7 836.6L296.2 835.2L297.7 833.8L299.2 832.4L300.7 830.9L302.2 829.5L303.7 828.1L305.2 826.6L306.7 825.1L308.2 823.6L309.7 822.1L311.2 820.6L312.7 819.0L314.2 817.4L315.7 815.8L317.2 814.1L318.7 812.5L320.2 810.8L321.7 809.1L323.2 807.3L324.7 805.6L326.2 803.8L327.7 802.0L329.2 800.2L330.7 798.3L332.2 796.5L333.7 794.5L335.2 792.6L336.7 790.6L338.2 788.6L339.7 786.5L341.2 784.3L342.7 782.1L344.2 779.8L345.7 777.4L347.2 775.0L348.7 772.4L350.2 769.7L351.7 767.0L353.2 764.1L354.7 761.2L356.2 758.1L357.7 755.1L359.2 752.0L360.7 748.8L362.2 745.7L363.7 742.6L365.2 739.5L366.7 736.5L368.2 733.7L369.7 730.9L371.2 728.3L372.7 725.9L374.2 723.7L375.7 721.7L377.2 719.8L378.7 718.2L380.2 716.8L381.7 715.6L383.2 714.6L384.7 713.7L386.2 713.1L387.7 712.6L389.2 712.2L390.7 712.0L392.2 712.0L393.7 712.0L395.2 712.2L396.7 712.5L398.2 713.0L399.7 713.5L401.2 714.2L402.7 715.0L404.2 715.9L405.7 717.0L407.2 718.2L408.7 719.6L410.2 721.1L411.7 722.7L413.2 724.4L414.7 726.3L416.2 728.3L417.7 730.4L419.2 732.7L420.7 735.0L422.2 737.4L423.7 739.9L425.2 742.5L426.7 745.2L428.2 747.9L429.7 750.7L431.2 753.5L432.7 756.4L434.2 759.3L435.7 762.3L437.2 765.4L438.7 768.5L440.2 771.6L441.7 774.8L443.2 778.0L444.7 781.2L446.2 784.5L447.7 787.7L449.2 791.0L450.7 794.3L452.2 797.5L453.7 800.7L455.2 803.9L456.7 807.0L458.2 810.0L459.7 813.0L461.2 815.9L462.7 818.6L464.2 821.3L465.7 823.9L467.2 826.4L468.7 828.7L470.2 831.0L471.7 833.1L473.2 835.2L474.7 837.1L476.2 839.0L477.7 840.8L479.2 842.5L480.7 844.1L482.2 845.6L483.7 847.1L485.2 848.5L486.7 849.9L488.2 851.3L489.7 852.6L491.2 853.9L492.7 855.1L494.2 856.4L495.7 857.7L497.2 858.9L498.7 860.2L500.2 861.5L501.7 862.8L503.2 864.2L504.7 865.6L506.2 867.0L507.7 868.5L509.2 870.1L510.7 871.7L512.2 873.4L513.7 875.1L515.2 876.8L516.7 878.6L518.2 880.5L519.7 882.4L521.2 884.3L522.7 886.2L524.2 888.1L525.7 890.0L527.2 891.9L528.7 893.8L530.2 895.6L531.7 897.3L533.2 899.0L534.7 900.7L536.2 902.2L537.7 903.7L539.2 905.0L540.7 906.3L542.2 907.5L543.7 908.6L545.2 909.6L546.7 910.5L548.2 911.4L549.7 912.2L551.2 912.9L552.7 913.6L554.2 914.3L555.6 914.9L557.1 915.5L558.6 916.1L560.1 916.7L561.6 917.3L563.1 917.9L564.6 918.5L566.1 919.1L567.6 919.7L569.1 920.3L570.6 920.9L572.1 921.6L573.6 922.2L575.1 922.9L576.6 923.5L578.1 924.1L579.6 924.8L581.1 925.4L582.6 926.0L584.1 926.6L585.6 927.1L587.1 927.7L588.6 928.2L590.1 928.7L591.6 929.2L593.1 929.7L594.6 930.1L596.1 930.5L597.6 931.0L599.1 931.3L600.6 931.7L602.1 932.1L603.6 932.5L605.1 932.8L606.6 933.1L608.1 933.5L609.6 933.8L611.1 934.1L612.6 934.4L614.1 934.7L615.6 935.0L617.1 935.3L618.6 935.5L620.1 935.8L621.6 936.1L623.1 936.3L624.6 936.5L626.1 936.8L627.6 937.0L629.1 937.2L630.6 937.4L632.1 937.6L633.6 937.7L635.1 937.9L636.6 938.1L638.1 938.2L639.6 938.3L641.1 938.5L642.6 938.6L644.1 938.7L645.6 938.8L647.1 938.9L648.6 938.9L650.1 939.0L651.6 939.1L653.1 939.1L654.6 939.2L656.1 939.2L657.6 939.3L659.1 939.3L660.6 939.3L662.1 939.4L663.6 939.4L665.1 939.4L666.6 939.4L668.1 939.4L669.6 939.4L671.1 939.5L672.6 939.5L674.1 939.5L675.6 939.5L677.1 939.5L678.6 939.5L680.1 939.5L681.6 939.5L683.1 939.5L684.6 939.5L686.1 939.5L687.6 939.5L689.1 939.5L690.6 939.5L692.1 939.5L693.6 939.5L695.1 939.5L696.6 939.5L698.1 939.5L699.6 939.5L701.1 939.5L702.6 939.5L704.1 939.5L705.6 939.5L707.1 939.5L708.6 939.5L710.1 939.5L711.6 939.5L713.1 939.5L714.6 939.5L716.1 939.5"/>
<path class="c o" d="M168.1 939.5L169.6 939.5L171.1 939.5L172.6 939.4L174.1 939.4L175.6 939.4L177.1 939.4L178.6 939.4L180.1 939.4L181.6 939.4L183.1 939.4L184.6 939.4L186.1 939.4L187.6 939.3L189.1 939.3L190.6 939.3L192.1 939.3L193.6 939.3L195.1 939.2L196.6 939.2L198.1 939.2L199.6 939.2L201.1 939.1L202.6 939.1L204.1 939.1L205.6 939.1L207.1 939.0L208.6 939.0L210.1 939.0L211.6 938.9L213.1 938.9L214.6 938.8L216.1 938.8L217.6 938.7L219.1 938.7L220.6 938.6L222.1 938.5L223.6 938.4L225.1 938.4L226.6 938.3L228.1 938.1L229.6 938.0L231.1 937.9L232.6 937.7L234.1 937.5L235.6 937.3L237.1 937.1L238.6 936.8L240.1 936.5L241.6 936.2L243.1 935.9L244.6 935.5L246.1 935.1L247.6 934.6L249.1 934.1L250.6 933.6L252.1 933.0L253.6 932.4L255.1 931.8L256.6 931.1L258.1 930.3L259.6 929.5L261.1 928.7L262.6 927.8L264.1 926.8L265.6 925.8L267.1 924.7L268.6 923.6L270.1 922.4L271.6 921.1L273.1 919.7L274.6 918.3L276.1 916.8L277.6 915.2L279.1 913.5L280.6 911.7L282.1 909.8L283.6 907.9L285.1 905.8L286.6 903.7L288.1 901.5L289.6 899.2L291.1 896.8L292.6 894.4L294.1 891.9L295.6 889.3L297.1 886.7L298.6 884.1L300.1 881.5L301.6 878.8L303.1 876.2L304.6 873.6L306.1 871.0L307.6 868.5L309.1 866.1L310.6 863.6L312.1 861.3L313.7 859.1L315.2 856.9L316.7 854.9L318.2 852.9L319.7 851.0L321.2 849.3L322.7 847.6L324.2 846.1L325.7 844.6L327.2 843.3L328.7 842.1L330.2 841.0L331.7 840.0L333.2 839.1L334.7 838.3L336.2 837.7L337.7 837.1L339.2 836.7L340.7 836.4L342.2 836.2L343.7 836.1L345.2 836.2L346.7 836.4L348.2 836.7L349.7 837.2L351.2 837.7L352.7 838.5L354.2 839.3L355.7 840.3L357.2 841.4L358.7 842.6L360.2 843.9L361.7 845.3L363.2 846.9L364.7 848.5L366.2 850.2L367.7 851.9L369.2 853.8L370.7 855.6L372.2 857.6L373.7 859.6L375.2 861.6L376.7 863.6L378.2 865.7L379.7 867.7L381.2 869.8L382.7 871.9L384.2 874.0L385.7 876.1L387.2 878.2L388.7 880.2L390.2 882.3L391.7 884.3L393.2 886.3L394.7 888.3L396.2 890.2L397.7 892.1L399.2 894.0L400.7 895.8L402.2 897.6L403.7 899.4L405.2 901.1L406.7 902.7L408.2 904.3L409.7 905.9L411.2 907.4L412.7 908.8L414.2 910.2L415.7 911.5L417.2 912.8L418.7 914.0L420.2 915.2L421.7 916.3L423.2 917.3L424.7 918.4L426.2 919.3L427.7 920.2L429.2 921.1L430.7 922.0L432.2 922.7L433.7 923.5L435.2 924.2L436.7 924.9L438.2 925.5L439.7 926.1L441.2 926.6L442.7 927.2L444.2 927.6L445.7 928.1L447.2 928.5L448.7 928.9L450.2 929.2L451.7 929.6L453.2 929.9L454.7 930.2L456.2 930.4L457.7 930.6L459.2 930.9L460.7 931.1L462.2 931.2L463.7 931.4L465.2 931.6L466.7 931.7L468.2 931.9L469.7 932.0L471.2 932.1L472.7 932.2L474.2 932.3L475.7 932.4L477.2 932.5L478.7 932.6L480.2 932.6L481.7 932.7L483.2 932.8L484.7 932.9L486.2 932.9L487.7 933.0L489.2 933.0L490.8 933.1L492.3 933.1L493.8 933.2L495.3 933.3L496.8 933.3L498.3 933.4L499.8 933.4L501.3 933.5L502.8 933.6L504.3 933.7L505.8 933.7L507.3 933.8L508.8 933.9L510.3 934.0L511.8 934.1L513.3 934.1L514.8 934.2L516.3 934.3L517.8 934.4L519.3 934.5L520.8 934.6L522.3 934.6L523.8 934.7L525.3 934.8L526.8 934.8L528.3 934.9L529.8 935.0L531.3 935.0L532.8 935.1L534.3 935.1L535.8 935.2L537.3 935.2L538.8 935.3L540.3 935.3L541.8 935.3L543.3 935.4L544.8 935.4L546.3 935.4L547.8 935.4L549.3 935.5L550.8 935.5L552.3 935.4L553.8 935.4L555.3 935.3L556.8 935.3L558.3 935.2L559.8 935.0L561.3 934.9L562.8 934.6L564.3 934.4L565.8 934.0L567.3 933.6L568.8 933.2L570.3 932.6L571.8 932.0L573.3 931.3L574.8 930.5L576.3 929.5L577.8 928.5L579.3 927.3L580.8 926.0L582.3 924.6L583.8 923.0L585.3 921.3L586.8 919.4L588.3 917.3L589.8 915.0L591.3 912.5L592.8 909.8L594.3 906.8L595.8 903.6L597.3 900.1L598.8 896.3L600.3 892.3L601.8 887.9L603.3 883.1L604.8 877.9L606.3 872.4L607.8 866.4L609.3 860.0L610.8 853.2L612.3 845.8L613.8 838.0L615.3 829.6L616.8 820.8L618.3 811.4L619.8 801.6L621.3 791.3L622.8 780.5L624.3 769.3L625.8 757.7L627.3 745.8L628.8 733.6L630.3 721.2L631.8 708.6L633.3 696.0L634.8 683.3L636.3 670.8L637.8 658.5L639.3 646.4L640.8 634.7L642.3 623.5L643.8 612.8L645.3 602.7L646.8 593.3L648.3 584.6L649.8 576.8L651.3 569.8L652.8 563.8L654.3 558.8L655.8 554.7L657.3 551.6L658.8 549.5L660.3 548.4L661.8 548.3L663.3 549.2L664.8 551.1L666.3 554.0L667.9 557.7L669.4 562.4L670.9 567.9L672.4 574.2L673.9 581.3L675.4 589.1L676.9 597.6L678.4 606.8L679.9 616.5L681.4 626.8L682.9 637.6L684.4 648.8L685.9 660.3L687.4 672.2L688.9 684.3L690.4 696.6L691.9 709.0L693.4 721.4L694.9 733.9L696.4 746.3L697.9 758.5L699.4 770.5L700.9 782.3L702.4 793.8L703.9 804.9L705.4 815.6L706.9 825.9L708.4 835.7L709.9 845.1L711.4 853.9L712.9 862.1L714.4 869.9L715.9 877.1L717.4 883.7L718.9 889.9L720.4 895.5L721.9 900.6L723.4 905.3L724.9 909.5L726.4 913.2L727.9 916.6L729.4 919.6L730.9 922.2L732.4 924.5L733.9 926.5L735.4 928.3L736.9 929.9L738.4 931.2L739.9 932.4L741.4 933.3L742.9 934.2L744.4 934.9L745.9 935.5L747.4 936.1L748.9 936.5L750.4 936.9L751.9 937.2L753.4 937.5L754.9 937.7L756.4 937.9L757.9 938.1L759.4 938.3L760.9 938.4L762.4 938.5L763.9 938.6L765.4 938.7L766.9 938.8L768.4 938.9L769.9 938.9L771.4 939.0L772.9 939.0L774.4 939.1L775.9 939.1L777.4 939.2L778.9 939.2L780.4 939.2L781.9 939.3L783.4 939.3L784.9 939.3L786.4 939.3L787.9 939.3L789.4 939.3L790.9 939.3L792.4 939.3L793.9 939.3L795.4 939.3L796.9 939.3L798.4 939.3L799.9 939.3L801.4 939.3L802.9 939.3L804.4 939.2L805.9 939.2L807.4 939.2L808.9 939.2L810.4 939.2L811.9 939.1L813.4 939.1L814.9 939.1L816.4 939.1L817.9 939.0L819.4 939.0L820.9 939.0L822.4 939.0L823.9 938.9L825.4 938.9L826.9 938.9L828.4 938.8L829.9 938.8L831.4 938.8L832.9 938.7L834.4 938.7L835.9 938.7L837.4 938.6L838.9 938.6L840.4 938.6L841.9 938.5L843.4 938.5L845.0 938.4L846.5 938.4L848.0 938.3L849.5 938.3L851.0 938.2L852.5 938.2L854.0 938.1L855.5 938.1L857.0 938.0L858.5 938.0L860.0 937.9L861.5 937.9L863.0 937.8L864.5 937.7L866.0 937.7L867.5 937.6L869.0 937.5L870.5 937.5L872.0 937.4L873.5 937.3L875.0 937.2L876.5 937.2L878.0 937.1L879.5 937.0L881.0 936.9L882.5 936.8L884.0 936.8L885.5 936.7L887.0 936.6L888.5 936.5L890.0 936.5L891.5 936.4L893.0 936.3L894.5 936.3L896.0 936.2L897.5 936.2L899.0 936.2L900.5 936.1L902.0 936.1L903.5 936.1L905.0 936.1L906.5 936.1L908.0 936.2L909.5 936.2L911.0 936.2L912.5 936.3L914.0 936.3L915.5 936.4L917.0 936.4L918.5 936.5L920.0 936.6L921.5 936.7L923.0 936.7L924.5 936.8L926.0 936.9L927.5 937.0L929.0 937.1L930.5 937.2L932.0 937.3L933.5 937.4L935.0 937.5L936.5 937.6L938.0 937.6L939.5 937.7L941.0 937.8L942.5 937.9L944.0 938.0L945.5 938.0L947.0 938.1L948.5 938.1L950.0 938.2L951.5 938.3L953.0 938.3L954.5 938.4L956.0 938.4L957.5 938.5L959.0 938.5L960.5 938.6L962.0 938.6L963.5 938.6L965.0 938.7L966.5 938.7L968.0 938.7L969.5 938.8L971.0 938.8L972.5 938.8L974.0 938.9L975.5 938.9L977.0 938.9L978.5 939.0L980.0 939.0L981.5 939.0L983.0 939.0L984.5 939.0L986.0 939.1L987.5 939.1"/>
</g>
<path class="tk" d="M146.2 939.5v5.2M314.7 939.5v5.2M483.2 939.5v5.2M651.7 939.5v5.2M820.2 939.5v5.2M988.7 939.5v5.2M61.3 939.5h-5.2M61.3 844.14h-5.2M61.3 749.88h-5.2M61.3 653.42h-5.2M61.3 558.06h-5.2"/>
<path class="sp" stroke-opacity="0.8" stroke-width="1.35" d="M60.4 529.4H989.6"/>
<path class="sp" stroke-opacity="0.85" stroke-width="1.3" d="M988.7 530.3V938.6"/>
<path class="sp" stroke-opacity="0.78" stroke-width="1.4" d="M60.4 939.5H989.6"/>
<path class="sp" stroke-opacity="0.72" stroke-width="1.5" d="M61.3 530.3V938.6"/>
<text class="t" x="146.2" y="971.9" text-anchor="middle">1.6</text>
<text class="t" x="314.7" y="971.9" text-anchor="middle">1.8</text>
<text class="t" x="483.2" y="971.9" text-anchor="middle">2.0</text>
<text class="t" x="651.7" y="971.9" text-anchor="middle">2.2</text>
<text class="t" x="820.2" y="971.9" text-anchor="middle">2.4</text>
<text class="t" x="988.7" y="971.9" text-anchor="middle">2.6</text>
<text class="t" x="51.9" y="949.8" text-anchor="end">0</text>
<text class="t" x="51.9" y="854.44" text-anchor="end">2</text>
<text class="t" x="51.9" y="760.58" text-anchor="end">4</text>
<text class="t" x="51.9" y="663.72" text-anchor="end">6</text>
<text class="t" x="52.3" y="569.16" text-anchor="end">8</text>
</g>
<g id="panel-br">
<clipPath id="clip-br"><rect x="1127.5" y="529.4" width="907" height="406.1"/></clipPath>
<g clip-path="url(#clip-br)">
<path class="c b" d="M1253.4 935.1L1254.9 935.1L1256.4 935.0L1257.9 935.0L1259.4 935.0L1260.9 934.9L1262.4 934.9L1263.9 934.8L1265.4 934.8L1266.9 934.7L1268.4 934.7L1269.9 934.6L1271.4 934.6L1272.9 934.5L1274.4 934.4L1275.9 934.3L1277.4 934.2L1278.9 934.1L1280.4 934.0L1281.9 933.9L1283.4 933.8L1284.9 933.6L1286.4 933.5L1287.9 933.3L1289.4 933.1L1290.9 932.9L1292.4 932.7L1293.9 932.5L1295.4 932.2L1296.9 932.0L1298.4 931.7L1299.9 931.4L1301.4 931.1L1302.9 930.7L1304.4 930.3L1305.9 929.9L1307.4 929.5L1308.9 929.1L1310.4 928.6L1311.9 928.1L1313.4 927.5L1314.9 926.9L1316.4 926.3L1317.9 925.7L1319.4 925.0L1320.9 924.3L1322.4 923.5L1323.9 922.7L1325.4 921.8L1326.9 921.0L1328.4 920.0L1329.9 919.1L1331.4 918.0L1332.9 917.0L1334.4 915.9L1335.9 914.7L1337.4 913.6L1338.9 912.3L1340.4 911.1L1342.0 909.8L1343.5 908.4L1345.0 907.1L1346.5 905.6L1348.0 904.2L1349.5 902.7L1351.0 901.2L1352.5 899.7L1354.0 898.2L1355.5 896.6L1357.0 895.0L1358.5 893.4L1360.0 891.8L1361.5 890.2L1363.0 888.6L1364.5 887.0L1366.0 885.3L1367.5 883.7L1369.0 882.1L1370.5 880.4L1372.0 878.8L1373.5 877.2L1375.0 875.5L1376.5 873.9L1378.0 872.2L1379.5 870.6L1381.0 869.0L1382.5 867.3L1384.0 865.6L1385.5 864.0L1387.0 862.3L1388.5 860.7L1390.0 859.0L1391.5 857.3L1393.0 855.6L1394.5 854.0L1396.0 852.3L1397.5 850.6L1399.0 848.9L1400.5 847.3L1402.0 845.6L1403.5 843.9L1405.0 842.3L1406.5 840.7L1408.0 839.0L1409.5 837.4L1411.0 835.8L1412.5 834.3L1414.0 832.7L1415.5 831.1L1417.0 829.6L1418.5 828.1L1420.0 826.5L1421.5 825.0L1423.0 823.5L1424.5 821.9L1426.0 820.4L1427.5 818.8L1429.0 817.3L1430.5 815.7L1432.0 814.1L1433.5 812.5L1435.0 810.8L1436.6 809.1L1438.1 807.4L1439.6 805.7L1441.1 803.9L1442.6 802.1L1444.1 800.3L1445.6 798.4L1447.1 796.5L1448.6 794.6L1450.1 792.7L1451.6 790.7L1453.1 788.8L1454.6 786.8L1456.1 784.9L1457.6 783.0L1459.1 781.1L1460.6 779.2L1462.1 777.4L1463.6 775.6L1465.1 773.9L1466.6 772.3L1468.1 770.8L1469.6 769.3L1471.1 767.9L1472.6 766.6L1474.1 765.4L1475.6 764.3L1477.1 763.2L1478.6 762.3L1480.1 761.4L1481.6 760.6L1483.1 759.9L1484.6 759.2L1486.1 758.6L1487.6 758.0L1489.1 757.5L1490.6 757.0L1492.1 756.5L1493.6 756.0L1495.1 755.6L1496.6 755.1L1498.1 754.6L1499.6 754.2L1501.1 753.7L1502.6 753.2L1504.1 752.7L1505.6 752.1L1507.1 751.5L1508.6 750.9L1510.1 750.3L1511.6 749.6L1513.1 748.9L1514.6 748.1L1516.1 747.2L1517.6 746.3L1519.1 745.4L1520.6 744.4L1522.1 743.3L1523.6 742.2L1525.1 741.0L1526.6 739.8L1528.1 738.5L1529.6 737.1L1531.2 735.8L1532.7 734.3L1534.2 732.8L1535.7 731.3L1537.2 729.8L1538.7 728.2L1540.2 726.6L1541.7 725.0L1543.2 723.4L1544.7 721.8L1546.2 720.2L1547.7 718.6L1549.2 717.0L1550.7 715.5L1552.2 713.9L1553.7 712.5L1555.2 711.0L1556.7 709.6L1558.2 708.3L1559.7 707.0L1561.2 705.8L1562.7 704.6L1564.2 703.6L1565.7 702.6L1567.2 701.7L1568.7 700.9L1570.2 700.1L1571.7 699.5L1573.2 698.9L1574.7 698.5L1576.2 698.1L1577.7 697.8L1579.2 697.5L1580.7 697.4L1582.2 697.3L1583.7 697.3L1585.2 697.3L1586.7 697.4L1588.2 697.5L1589.7 697.6L1591.2 697.8L1592.7 697.9L1594.2 698.1L1595.7 698.3L1597.2 698.5L1598.7 698.6L1600.2 698.8L1601.7 698.9L1603.2 698.9L1604.7 699.0L1606.2 698.9L1607.7 698.9L1609.2 698.8L1610.7 698.6L1612.2 698.4L1613.7 698.1L1615.2 697.8L1616.7 697.4L1618.2 696.9L1619.7 696.4L1621.2 695.8L1622.7 695.2L1624.2 694.6L1625.8 693.8L1627.3 693.1L1628.8 692.3L1630.3 691.5L1631.8 690.6L1633.3 689.7L1634.8 688.8L1636.3 687.8L1637.8 686.9L1639.3 685.9L1640.8 684.9L1642.3 683.9L1643.8 682.9L1645.3 681.9L1646.8 680.8L1648.3 679.8L1649.8 678.8L1651.3 677.8L1652.8 676.8L1654.3 675.8L1655.8 674.8L1657.3 673.9L1658.8 673.0L1660.3 672.1L1661.8 671.2L1663.3 670.4L1664.8 669.6L1666.3 668.9L1667.8 668.2L1669.3 667.5L1670.8 666.9L1672.3 666.3L1673.8 665.7L1675.3 665.2L1676.8 664.8L1678.3 664.3L1679.8 663.9L1681.3 663.5L1682.8 663.2L1684.3 662.8L1685.8 662.5L1687.3 662.1L1688.8 661.8L1690.3 661.4L1691.8 661.1L1693.3 660.7L1694.8 660.2L1696.3 659.8L1697.8 659.3L1699.3 658.8L1700.8 658.2L1702.3 657.6L1703.8 657.0L1705.3 656.3L1706.8 655.5L1708.3 654.7L1709.8 653.9L1711.3 653.0L1712.8 652.1L1714.3 651.2L1715.8 650.2L1717.3 649.2L1718.9 648.2L1720.4 647.1L1721.9 646.0L1723.4 644.9L1724.9 643.8L1726.4 642.7L1727.9 641.5L1729.4 640.4L1730.9 639.2L1732.4 638.0L1733.9 636.8L1735.4 635.5L1736.9 634.2L1738.4 633.0L1739.9 631.6L1741.4 630.3L1742.9 629.0L1744.4 627.6L1745.9 626.3L1747.4 624.9L1748.9 623.6L1750.4 622.2L1751.9 620.9L1753.4 619.6L1754.9 618.3L1756.4 617.1L1757.9 615.9L1759.4 614.8L1760.9 613.7L1762.4 612.7L1763.9 611.8L1765.4 610.9L1766.9 610.1L1768.4 609.4L1769.9 608.7L1771.4 608.1L1772.9 607.5L1774.4 607.0L1775.9 606.6L1777.4 606.3L1778.9 606.0L1780.4 605.8L1781.9 605.7L1783.4 605.7L1784.9 605.9L1786.4 606.1L1787.9 606.5L1789.4 607.1L1790.9 607.8L1792.4 608.7L1793.9 609.9L1795.4 611.2L1796.9 612.8L1798.4 614.7L1799.9 616.8L1801.4 619.1L1802.9 621.8L1804.4 624.7L1805.9 627.8L1807.4 631.3L1808.9 635.0L1810.4 638.9L1811.9 643.1L1813.5 647.6L1815.0 652.2L1816.5 657.1L1818.0 662.2L1819.5 667.5L1821.0 672.9L1822.5 678.6L1824.0 684.4L1825.5 690.5L1827.0 696.6L1828.5 702.9L1830.0 709.4L1831.5 716.0L1833.0 722.7L1834.5 729.6L1836.0 736.6L1837.5 743.6L1839.0 750.8L1840.5 758.0L1842.0 765.2L1843.5 772.5L1845.0 779.8L1846.5 787.1L1848.0 794.4L1849.5 801.6L1851.0 808.8L1852.5 815.8L1854.0 822.7L1855.5 829.5L1857.0 836.1L1858.5 842.5L1860.0 848.8L1861.5 854.8L1863.0 860.6L1864.5 866.1L1866.0 871.4L1867.5 876.5L1869.0 881.3L1870.5 885.8L1872.0 890.1L1873.5 894.1L1875.0 897.9L1876.5 901.4L1878.0 904.7L1879.5 907.7L1881.0 910.5L1882.5 913.1L1884.0 915.4L1885.5 917.6L1887.0 919.6L1888.5 921.4L1890.0 923.1L1891.5 924.5L1893.0 925.9L1894.5 927.1L1896.0 928.1L1897.5 929.1L1899.0 929.9L1900.5 930.7L1902.0 931.4L1903.5 931.9L1905.0 932.5L1906.5 932.9L1908.1 933.3L1909.6 933.6L1911.1 933.9L1912.6 934.2L1914.1 934.4L1915.6 934.5L1917.1 934.7L1918.6 934.8L1920.1 934.9L1921.6 935.0L1923.1 935.1L1924.6 935.1L1926.1 935.2"/>
<path class="c o" d="M1166.9 931.5L1168.4 931.2L1169.9 930.8L1171.4 930.5L1172.9 930.1L1174.4 929.7L1175.9 929.2L1177.4 928.7L1178.9 928.2L1180.4 927.7L1181.9 927.1L1183.4 926.4L1184.9 925.7L1186.4 925.0L1187.9 924.2L1189.4 923.3L1190.9 922.4L1192.4 921.4L1193.9 920.3L1195.4 919.1L1196.9 917.9L1198.4 916.5L1199.9 915.0L1201.4 913.5L1202.9 911.8L1204.4 909.9L1205.9 908.0L1207.4 905.9L1208.9 903.7L1210.4 901.3L1211.9 898.8L1213.4 896.2L1214.9 893.4L1216.4 890.4L1217.9 887.3L1219.4 884.1L1220.9 880.7L1222.4 877.2L1223.9 873.5L1225.4 869.7L1226.9 865.8L1228.4 861.7L1229.9 857.5L1231.4 853.2L1232.9 848.8L1234.4 844.2L1235.9 839.6L1237.4 834.8L1238.9 830.0L1240.4 825.0L1241.9 820.0L1243.4 814.9L1244.9 809.6L1246.4 804.3L1247.9 798.9L1249.4 793.4L1250.9 787.7L1252.4 782.0L1253.9 776.2L1255.4 770.3L1256.9 764.2L1258.4 758.1L1259.9 751.9L1261.4 745.5L1262.9 739.1L1264.4 732.5L1265.9 725.9L1267.4 719.1L1268.9 712.3L1270.4 705.4L1271.9 698.5L1273.4 691.5L1274.9 684.5L1276.4 677.4L1277.9 670.4L1279.4 663.4L1280.9 656.4L1282.4 649.5L1283.9 642.7L1285.4 636.0L1286.9 629.4L1288.4 623.0L1289.9 616.7L1291.4 610.6L1292.9 604.7L1294.4 599.1L1295.9 593.7L1297.4 588.5L1298.9 583.7L1300.4 579.1L1301.9 574.8L1303.4 570.8L1304.9 567.1L1306.4 563.7L1307.9 560.6L1309.4 557.9L1310.9 555.5L1312.4 553.4L1313.9 551.6L1315.4 550.2L1316.9 549.1L1318.4 548.3L1319.9 547.8L1321.4 547.6L1322.9 547.8L1324.4 548.3L1325.9 549.0L1327.4 550.1L1328.9 551.5L1330.4 553.1L1331.9 555.1L1333.4 557.3L1334.9 559.8L1336.4 562.6L1337.9 565.6L1339.4 569.0L1340.9 572.5L1342.4 576.3L1343.9 580.4L1345.4 584.7L1346.9 589.2L1348.4 594.0L1349.9 598.9L1351.4 604.0L1352.9 609.3L1354.4 614.8L1355.9 620.4L1357.4 626.2L1358.9 632.1L1360.4 638.1L1361.9 644.2L1363.4 650.3L1364.9 656.6L1366.4 662.8L1367.9 669.1L1369.4 675.5L1370.9 681.8L1372.4 688.1L1373.9 694.4L1375.4 700.6L1376.9 706.7L1378.4 712.8L1379.9 718.9L1381.4 724.8L1382.9 730.6L1384.4 736.3L1385.9 741.9L1387.4 747.4L1388.9 752.7L1390.4 757.9L1391.9 763.0L1393.4 768.0L1394.9 772.8L1396.4 777.5L1397.9 782.0L1399.4 786.4L1400.9 790.7L1402.4 794.9L1403.9 799.0L1405.4 802.9L1406.9 806.8L1408.4 810.5L1409.9 814.1L1411.4 817.7L1412.9 821.1L1414.4 824.4L1415.9 827.6L1417.4 830.8L1418.9 833.8L1420.4 836.8L1421.9 839.6L1423.4 842.4L1424.9 845.1L1426.4 847.6L1427.9 850.1L1429.4 852.5L1430.9 854.7L1432.4 856.9L1433.9 858.9L1435.4 860.8L1436.9 862.7L1438.4 864.4L1439.9 866.0L1441.4 867.6L1442.9 869.0L1444.4 870.3L1445.9 871.5L1447.4 872.7L1448.9 873.8L1450.4 874.7L1451.9 875.7L1453.4 876.5L1454.9 877.3L1456.4 878.0L1457.9 878.7L1459.4 879.3L1460.9 879.9L1462.4 880.4L1463.9 881.0L1465.4 881.4L1466.9 881.9L1468.4 882.4L1469.9 882.8L1471.4 883.2L1472.9 883.6L1474.4 884.0L1475.9 884.3L1477.4 884.7L1478.9 885.0L1480.4 885.4L1481.9 885.7L1483.4 886.0L1484.9 886.3L1486.4 886.6L1487.9 886.9L1489.4 887.1L1490.9 887.4L1492.4 887.6L1493.9 887.9L1495.4 888.1L1496.9 888.3L1498.4 888.5L1499.9 888.6L1501.4 888.8L1502.9 889.0L1504.4 889.1L1505.9 889.2L1507.4 889.4L1508.9 889.5L1510.4 889.6L1511.9 889.7L1513.4 889.9L1514.9 890.0L1516.4 890.1L1517.9 890.2L1519.4 890.3L1520.9 890.4L1522.4 890.5L1523.9 890.6L1525.4 890.7L1526.9 890.8L1528.4 890.9L1529.9 891.0L1531.4 891.0L1532.9 891.1L1534.4 891.2L1535.9 891.2L1537.4 891.3L1538.9 891.3L1540.4 891.4L1541.9 891.4L1543.4 891.4L1544.9 891.4L1546.4 891.4L1547.9 891.4L1549.4 891.4L1550.9 891.3L1552.4 891.3L1553.9 891.2L1555.4 891.2L1556.9 891.1L1558.4 891.0L1559.9 890.8L1561.4 890.7L1562.9 890.5L1564.4 890.4L1565.9 890.2L1567.4 890.0L1568.9 889.8L1570.4 889.5L1571.9 889.3L1573.4 889.0L1574.9 888.7L1576.4 888.4L1577.9 888.0L1579.4 887.7L1580.9 887.3L1582.4 886.9L1583.9 886.5L1585.4 886.0L1586.9 885.6L1588.4 885.1L1589.9 884.6L1591.4 884.1L1592.9 883.5L1594.4 883.0L1595.9 882.4L1597.4 881.8L1598.9 881.2L1600.4 880.6L1601.9 879.9L1603.4 879.3L1604.9 878.6L1606.4 877.9L1607.9 877.2L1609.4 876.5L1610.9 875.8L1612.4 875.1L1613.9 874.4L1615.4 873.6L1616.9 872.9L1618.4 872.1L1619.9 871.3L1621.4 870.6L1622.9 869.8L1624.4 869.0L1625.9 868.2L1627.4 867.4L1628.9 866.6L1630.4 865.8L1631.9 865.0L1633.4 864.2L1634.9 863.5L1636.4 862.7L1637.9 861.9L1639.4 861.1L1640.9 860.4L1642.4 859.6L1643.9 858.9L1645.4 858.2L1646.9 857.4L1648.4 856.8L1649.9 856.1L1651.4 855.4L1652.9 854.8L1654.4 854.2L1655.9 853.6L1657.4 853.0L1658.9 852.5L1660.4 851.9L1661.9 851.4L1663.4 851.0L1664.9 850.5L1666.4 850.1L1667.9 849.7L1669.4 849.3L1670.9 848.9L1672.4 848.6L1673.9 848.2L1675.4 847.9L1676.9 847.6L1678.4 847.4L1679.9 847.1L1681.4 846.9L1682.9 846.6L1684.4 846.4L1685.9 846.2L1687.4 846.0L1688.9 845.8L1690.4 845.6L1691.9 845.4L1693.4 845.2L1694.9 845.0L1696.4 844.8L1697.9 844.6L1699.4 844.4L1700.9 844.1L1702.4 843.9L1703.9 843.6L1705.4 843.3L1706.9 842.9L1708.4 842.6L1709.9 842.2L1711.4 841.8L1712.9 841.3L1714.4 840.8L1715.9 840.2L1717.4 839.6L1718.9 838.9L1720.4 838.2L1721.9 837.4L1723.4 836.5L1724.9 835.6L1726.4 834.6L1727.9 833.6L1729.4 832.4L1730.9 831.2L1732.4 829.9L1733.9 828.5L1735.4 827.1L1736.9 825.5L1738.4 823.9L1739.9 822.2L1741.4 820.4L1742.9 818.6L1744.4 816.6L1745.9 814.6L1747.4 812.5L1748.9 810.4L1750.4 808.1L1751.9 805.8L1753.4 803.4L1754.9 800.9L1756.4 798.3L1757.9 795.7L1759.4 793.0L1760.9 790.2L1762.4 787.3L1763.9 784.3L1765.4 781.2L1766.9 778.1L1768.4 774.9L1769.9 771.5L1771.4 768.1L1772.9 764.6L1774.4 761.0L1775.9 757.4L1777.4 753.6L1778.9 749.8L1780.4 745.9L1781.9 741.9L1783.4 737.8L1784.9 733.8L1786.4 729.6L1787.9 725.5L1789.4 721.3L1790.9 717.1L1792.4 712.9L1793.9 708.8L1795.4 704.7L1796.9 700.6L1798.4 696.6L1799.9 692.7L1801.4 688.8L1802.9 685.1L1804.4 681.5L1805.9 678.0L1807.4 674.6L1808.9 671.4L1810.4 668.4L1811.9 665.5L1813.4 662.8L1814.9 660.3L1816.4 657.9L1817.9 655.7L1819.4 653.7L1820.9 651.9L1822.4 650.3L1823.9 648.9L1825.4 647.6L1826.9 646.5L1828.4 645.6L1829.9 644.9L1831.4 644.3L1832.9 643.9L1834.4 643.8L1835.9 643.7L1837.4 643.9L1838.9 644.2L1840.4 644.8L1841.9 645.5L1843.4 646.4L1844.9 647.5L1846.4 648.8L1847.9 650.4L1849.4 652.1L1850.9 654.1L1852.4 656.3L1853.9 658.8L1855.4 661.4L1856.9 664.4L1858.4 667.5L1859.9 670.9L1861.4 674.5L1862.9 678.4L1864.4 682.5L1865.9 686.8L1867.4 691.3L1868.9 696.1L1870.4 701.0L1871.9 706.0L1873.4 711.2L1874.9 716.6L1876.4 722.0L1877.9 727.6L1879.4 733.2L1880.9 738.9L1882.4 744.6L1883.9 750.2L1885.4 755.9L1886.9 761.6L1888.4 767.2L1889.9 772.7L1891.4 778.2L1892.9 783.6L1894.4 788.9L1895.9 794.0L1897.4 799.1L1898.9 804.0L1900.4 808.9L1901.9 813.5L1903.4 818.1L1904.9 822.6L1906.4 826.9L1907.9 831.1L1909.4 835.3L1910.9 839.3L1912.4 843.2L1913.9 847.0L1915.4 850.7L1916.9 854.3L1918.4 857.9L1919.9 861.3L1921.4 864.7L1922.9 868.0L1924.4 871.3L1925.9 874.4L1927.4 877.5L1928.9 880.5L1930.4 883.4L1931.9 886.3L1933.4 889.0L1934.9 891.7L1936.4 894.3L1937.9 896.8L1939.4 899.2L1940.9 901.5L1942.4 903.7L1943.9 905.8L1945.4 907.8L1946.9 909.7L1948.4 911.5L1949.9 913.2L1951.4 914.8L1952.9 916.3L1954.4 917.8L1955.9 919.1L1957.4 920.3L1958.9 921.4L1960.4 922.5L1961.9 923.5L1963.4 924.4L1964.9 925.2L1966.4 926.0L1967.9 926.7L1969.4 927.3L1970.9 927.9L1972.4 928.4L1973.9 928.9L1975.4 929.4L1976.9 929.8L1978.4 930.2L1979.9 930.6L1981.4 930.9L1982.9 931.2L1984.4 931.5L1985.9 931.7L1987.4 932.0L1988.9 932.2L1990.4 932.4L1991.9 932.6L1993.4 932.8"/>
</g>
<path class="tk" d="M1201.05 935.5v5.2M1317.9 935.5v5.2M1434.75 935.5v5.2M1551.6 935.5v5.2M1668.45 935.5v5.2M1785.3 935.5v5.2M1902.15 935.5v5.2M2019 935.5v5.2M1127.5 935.5h-5.2M1127.5 841.62h-5.2M1127.5 747.75h-5.2M1127.5 653.88h-5.2M1127.5 560h-5.2"/>
<path class="sp" stroke-opacity="0.8" stroke-width="1.35" d="M1126.6 529.4H2035.4"/>
<path class="sp" stroke-opacity="0.78" stroke-width="1.4" d="M2034.5 530.3V934.6"/>
<path class="sp" stroke-opacity="0.8" stroke-width="1.35" d="M1126.6 935.5H2035.4"/>
<path class="sp" stroke-opacity="0.74" stroke-width="1.45" d="M1127.5 530.3V934.6"/>
<text class="t" x="1201.05" y="967" text-anchor="middle">−20</text>
<text class="t" x="1317.9" y="967" text-anchor="middle">0</text>
<text class="t" x="1434.75" y="967" text-anchor="middle">20</text>
<text class="t" x="1551.6" y="967" text-anchor="middle">40</text>
<text class="t" x="1668.45" y="967" text-anchor="middle">60</text>
<text class="t" x="1785.3" y="967" text-anchor="middle">80</text>
<text class="t" x="1902.15" y="967" text-anchor="middle">100</text>
<text class="t" x="2019" y="967" text-anchor="middle">120</text>
<text class="t" x="1116.7" y="946.9" text-anchor="end">0.000</text>
<text class="t" x="1116.7" y="853.02" text-anchor="end">0.005</text>
<text class="t" x="1116.7" y="759.15" text-anchor="end">0.010</text>
<text class="t" x="1116.7" y="665.27" text-anchor="end">0.015</text>
<text class="t" x="1116.7" y="571.4" text-anchor="end">0.020</text>
</g>
<text class="ti" x="524.5" y="27.4" text-anchor="middle">mytorus</text>
<text class="ti" x="1581" y="27.4" text-anchor="middle">uxclumpy</text>
<text class="t" style="font-size:27.9px" transform="translate(22.4 242.9) rotate(-90)" text-anchor="middle">Density</text>
<text class="t" style="font-size:27.9px" transform="translate(22.7 736.3) rotate(-90)" text-anchor="middle">Density</text>
<text class="t" x="524.6" y="514.5" text-anchor="middle">log <tspan font-style="italic">f</tspan><tspan font-size="20.1px" dy="4">scatt</tspan></text>
<text class="t" x="1580.6" y="512.7" text-anchor="middle">log <tspan font-style="italic">N</tspan><tspan font-size="19.8px" dx="-1" dy="5.4">H</tspan><tspan dx="1" dy="-5.4">/cm</tspan><tspan font-size="19.8px" dx="0.6" dy="-10.3">−2</tspan></text>
<text class="t" x="525.4" y="1005.9" text-anchor="middle">Γ</text>
<text class="t" x="1581" y="1003.5" text-anchor="middle"><tspan font-style="italic">θ</tspan><tspan font-size="20.1px" dx="-0.4" dy="4.2">inclination</tspan><tspan dx="0.4" dy="-4.2">/deg</tspan></text>
<g id="legend">
<rect x="392.1" y="50.6" width="582.2" height="94" rx="5.5" ry="5.5" fill="#fff" fill-opacity="0.8" stroke="#d6d6d6" stroke-width="1.6"/>
<path class="c b" stroke-linecap="butt" d="M402.5 72.9H460.8"/>
<path class="c o" stroke-linecap="butt" d="M402.5 115.9H460.8"/>
<text class="t" x="482.8" y="83">BXA global parameter estimation</text>
<text class="t" x="482.8" y="126">Xspec local parameter estimation</text>
</g>
</svg>
</body></html>
